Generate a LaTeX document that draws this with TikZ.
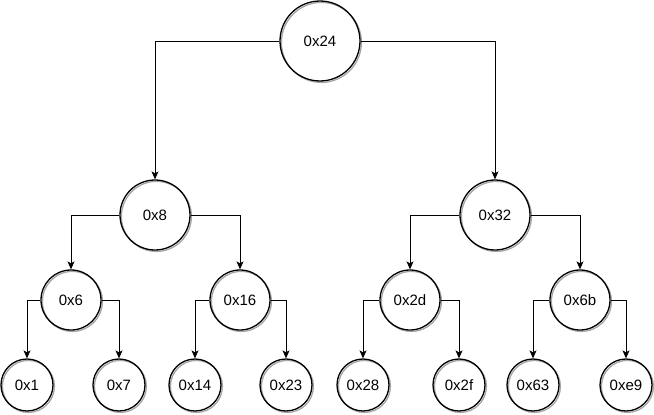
\documentclass[tikz,border=0pt]{standalone}
\usepackage{fontspec}
\setmainfont{Liberation Sans}
\usetikzlibrary{arrows.meta}
\usetikzlibrary{shadows}

\begin{document}
\begin{tikzpicture}[x=1pt, y=-1pt,
	key/.style={circle, draw, line width=1.3pt, inner sep=0pt,
		font=\fontsize{15}{18}\selectfont,
		general shadow={shadow xshift=1.4pt, shadow yshift=-1.4pt,
			draw=black!35, fill=none, line width=1.3pt}},
	rootkey/.style={key, minimum size=80pt},
	midkey/.style={key, minimum size=70pt},
	lowkey/.style={key, minimum size=60pt},
	leafkey/.style={key, minimum size=52pt},
	link/.style={line width=0.8pt, -{Stealth[length=8pt, width=7pt, inset=2pt]}}]
	\useasboundingbox (0,0) rectangle (654,415);
	% levels of the tree
	\node[rootkey] (n24) at (320,41) {0x24};
	\node[midkey] (n8) at (155,215) {0x8};
	\node[midkey] (n32) at (495,215) {0x32};
	\node[lowkey] (n6) at (71,300) {0x6};
	\node[lowkey] (n16) at (240,300) {0x16};
	\node[lowkey] (n2d) at (410,300) {0x2d};
	\node[lowkey] (n6b) at (580,300) {0x6b};
	\node[leafkey] (n1) at (27,385) {0x1};
	\node[leafkey] (n7) at (119,385) {0x7};
	\node[leafkey] (n14) at (195,385) {0x14};
	\node[leafkey] (n23) at (286,385) {0x23};
	\node[leafkey] (n28) at (363,385) {0x28};
	\node[leafkey] (n2f) at (459,385) {0x2f};
	\node[leafkey] (n63) at (533,385) {0x63};
	\node[leafkey] (ne9) at (626,385) {0xe9};
	% links
	\draw[link] (n24.west) -| (n8.north);
	\draw[link] (n24.east) -| (n32.north);
	\draw[link] (n8.west) -| (n6.north);
	\draw[link] (n8.east) -| (n16.north);
	\draw[link] (n32.west) -| (n2d.north);
	\draw[link] (n32.east) -| (n6b.north);
	\draw[link] (n6.west) -| (n1.north);
	\draw[link] (n6.east) -| (n7.north);
	\draw[link] (n16.west) -| (n14.north);
	\draw[link] (n16.east) -| (n23.north);
	\draw[link] (n2d.west) -| (n28.north);
	\draw[link] (n2d.east) -| (n2f.north);
	\draw[link] (n6b.west) -| (n63.north);
	\draw[link] (n6b.east) -| (ne9.north);
\end{tikzpicture}
\end{document}
